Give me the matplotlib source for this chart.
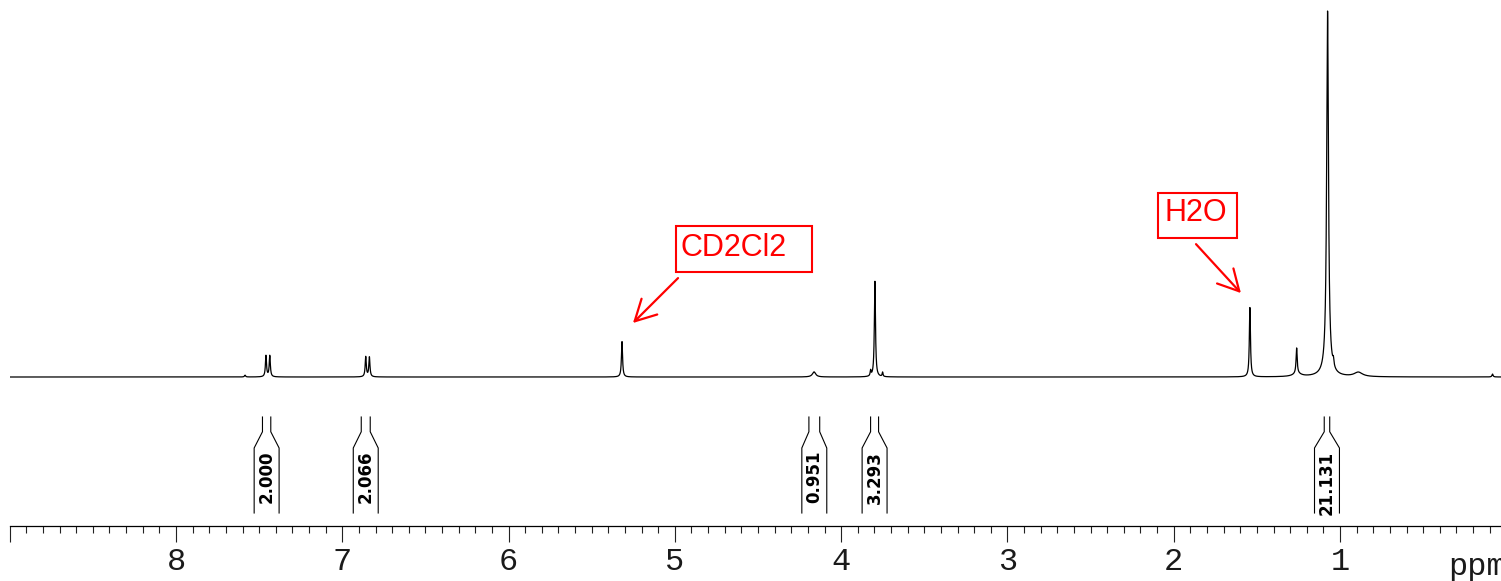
import numpy as np
import matplotlib
matplotlib.use("Agg")
import matplotlib.pyplot as plt
from matplotlib.ticker import MultipleLocator
from matplotlib.patches import ArrowStyle, Rectangle

# Peak list of the 1H spectrum: shift (ppm), relative height, half width (ppm)
peak_shift = [7.585, 7.459, 7.436, 6.859, 6.837, 5.318, 4.163, 3.823, 3.797,
              3.751, 1.542, 1.261, 1.258, 1.075, 1.072, 1.040, 0.890, 0.083]
peak_height = [0.005, 0.058, 0.058, 0.055, 0.054, 0.097, 0.014, 0.015, 0.262,
               0.012, 0.190, 0.070, 0.008, 0.990, 0.012, 0.018, 0.012, 0.008]
peak_width = [0.004, 0.004, 0.004, 0.004, 0.004, 0.004, 0.012, 0.003, 0.004,
              0.003, 0.004, 0.004, 0.030, 0.0065, 0.035, 0.004, 0.030, 0.004]

# Integrated regions and their integrals
integral_start = [7.480, 6.886, 4.194, 3.823, 1.095]
integral_end = [7.430, 6.832, 4.129, 3.775, 1.062]
integral_value = ["2.000", "2.066", "0.951", "3.293", "21.131"]

tick_values = [9, 8, 7, 6, 5, 4, 3, 2, 1]
tick_labels = ["", "8", "7", "6", "5", "4", "3", "2", "1"]

# Build the spectrum trace from Lorentzian lines
ppm = np.linspace(9.0, 0.0, 45001)
intensity = np.zeros_like(ppm)
for s, h, w in zip(peak_shift, peak_height, peak_width):
    intensity += h * w ** 2 / ((ppm - s) ** 2 + w ** 2)

fig = plt.figure(figsize=(15.01, 5.81), dpi=100)
left = 9.71 / 1501
ax = fig.add_axes([left, 0.0, 1.0 - left, 1.0])
ax.set_xlim(9.0, 0.032)
ax.set_ylim(-0.5589, 1.0329)

ax.plot(ppm, intensity, color="black", lw=0.9)

# ppm scale
axis_y = -0.408
for side in ("top", "left", "right"):
    ax.spines[side].set_visible(False)
ax.spines["bottom"].set_position(("data", axis_y))
ax.spines["bottom"].set_linewidth(0.9)
ax.set_yticks([])
ax.set_xticks(tick_values)
ax.set_xticklabels(tick_labels, fontfamily="Liberation Mono", fontsize=23,
                   color="#1a1a1a")
ax.xaxis.set_minor_locator(MultipleLocator(0.1))
ax.tick_params(axis="x", which="major", direction="out", length=11.5,
               width=0.8, pad=3.5, color="#222222")
ax.tick_params(axis="x", which="minor", direction="out", length=5,
               width=0.8, color="#222222")
ax.text(0.351, -0.5425, "ppm", fontfamily="Liberation Mono", fontsize=23,
        color="#1a1a1a", ha="left", va="baseline", clip_on=False)

# Integral brackets with their values
half = 0.075
y_top, y_neck, y_shoulder, y_bottom = -0.1096, -0.150, -0.1945, -0.3726
for a, b, val in zip(integral_start, integral_end, integral_value):
    c = 0.5 * (a + b)
    xs_l = [a, a, c + half, c + half]
    xs_r = [b, b, c - half, c - half]
    ys = [y_top, y_neck, y_shoulder, y_bottom]
    ax.plot(xs_l, ys, color="black", lw=0.8)
    ax.plot(xs_r, ys, color="black", lw=0.8)
    ax.text(c, -0.2027, val, rotation=90, ha="center", va="top",
            fontfamily="DejaVu Sans", fontweight="bold", fontsize=12)

# Solvent labels
arrow = ArrowStyle("->", head_length=1.5, head_width=0.8)
ax.add_patch(Rectangle((4.177, 0.2877), 4.995 - 4.177, 0.4137 - 0.2877,
                       fill=False, ec="red", lw=1.5))
ax.text(4.969, 0.3323, "CD2Cl2", color="red", fontsize=22,
        fontfamily="Liberation Sans", ha="left", va="baseline")
ax.annotate("", xy=(5.252, 0.148), xytext=(4.981, 0.271),
            arrowprops=dict(arrowstyle=arrow, color="red", lw=1.6,
                            mutation_scale=10, shrinkA=0, shrinkB=0))
ax.add_patch(Rectangle((1.618, 0.380), 2.093 - 1.618, 0.5033 - 0.380,
                       fill=False, ec="red", lw=1.5))
ax.text(2.053, 0.4274, "H2O", color="red", fontsize=22,
        fontfamily="Liberation Sans", ha="left", va="baseline")
ax.annotate("", xy=(1.596, 0.230), xytext=(1.866, 0.364),
            arrowprops=dict(arrowstyle=arrow, color="red", lw=1.6,
                            mutation_scale=10, shrinkA=0, shrinkB=0))

fig.savefig("out.png", dpi=100)
